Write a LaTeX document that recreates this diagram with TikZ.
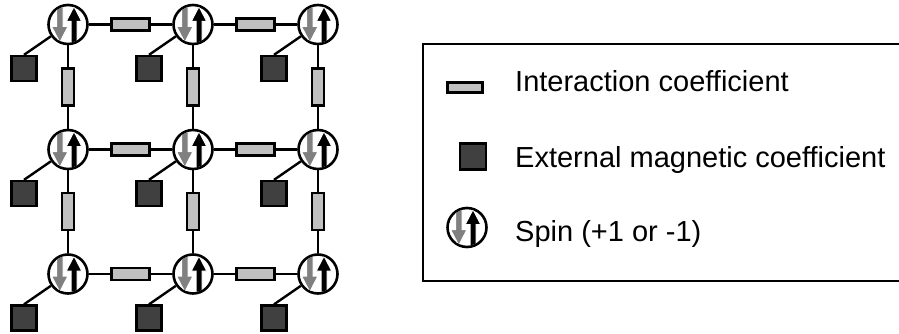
\documentclass[tikz,border=0pt]{standalone}
\usepackage{fontspec}
\setmainfont{Liberation Sans}
\usetikzlibrary{calc}
\definecolor{bargray}{RGB}{192,192,192}
\definecolor{sqgray}{RGB}{64,64,64}
\definecolor{arrgray}{RGB}{128,128,128}
\tikzset{
  spin/.style={circle, draw, line width=2.6pt, fill=white, minimum size=39pt, inner sep=0pt},
  hbar/.style={rectangle, draw, line width=2.3pt, fill=bargray, minimum width=38pt, minimum height=12pt, inner sep=0pt},
  vbar/.style={rectangle, draw, line width=2.3pt, fill=bargray, minimum width=12pt, minimum height=37pt, inner sep=0pt},
  magsq/.style={rectangle, draw, line width=2.3pt, fill=sqgray, minimum size=25pt, inner sep=0pt},
  link/.style={line width=2.4pt},
  legendtext/.style={anchor=base west, inner sep=0pt, font=\fontsize{29}{34}\selectfont},
  spinarrows/.pic={
    \begin{scope}
      \clip (0,0) circle (18.2pt);
      \filldraw[fill=arrgray, draw=white, line width=1pt]
        (-11.5,-22) -- (-11.5,2) -- (-16.5,2) -- (-8.2,18) -- (0,2) -- (-5,2) -- (-5,-22) -- cycle;
      \filldraw[fill=black, draw=white, line width=1pt]
        (3,22) -- (3,-3) -- (-1.8,-3) -- (6,-18) -- (13.8,-3) -- (9,-3) -- (9,22) -- cycle;
    \end{scope}
  }
}
\begin{document}
\begin{tikzpicture}[x=1pt, y=-1pt]
\useasboundingbox (0,0) rectangle (899,334);
% spins and external field squares
\foreach \c/\x in {1/68,2/193,3/318}{
  \foreach \r/\y in {1/24.5,2/149.5,3/274}{
    \node[spin] (s\r\c) at (\x,\y) {};
    \pic at (s\r\c) {spinarrows};
    \node[magsq] (m\r\c) at (\x-44,\y+44) {};
    \draw[link] (m\r\c.north) -- (s\r\c);
  }
}
% horizontal interactions
\foreach \r in {1,2,3}{
  \foreach \c/\n in {1/2,2/3}{
    \node[hbar] (h\r\c) at ($(s\r\c)!0.5!(s\r\n)$) {};
    \draw[link] (s\r\c) -- (h\r\c);
    \draw[link] (h\r\c) -- (s\r\n);
  }
}
% vertical interactions
\foreach \c in {1,2,3}{
  \foreach \r/\n in {1/2,2/3}{
    \node[vbar] (v\r\c) at ($(s\r\c)!0.5!(s\n\c)$) {};
    \draw[link] (s\r\c) -- (v\r\c);
    \draw[link] (v\r\c) -- (s\n\c);
  }
}
% legend
\draw[line width=2.2pt] (905,44) -- (423,44) -- (423,281) -- (905,281);
\node[hbar, minimum width=35pt, minimum height=10pt] (lbar) at (465,87.5) {};
\node[magsq, minimum size=26pt] (lsq) at (473,156.5) {};
\node[spin] (lspin) at (467,227.5) {};
\pic at (lspin) {spinarrows};
\node[legendtext] (t1) at (515,92) {Interaction coefficient};
\node[legendtext] (t2) at (515,167) {External magnetic coefficient};
\node[legendtext] (t3) at (515,241) {Spin (+1 or -1)};
\end{tikzpicture}
\end{document}
